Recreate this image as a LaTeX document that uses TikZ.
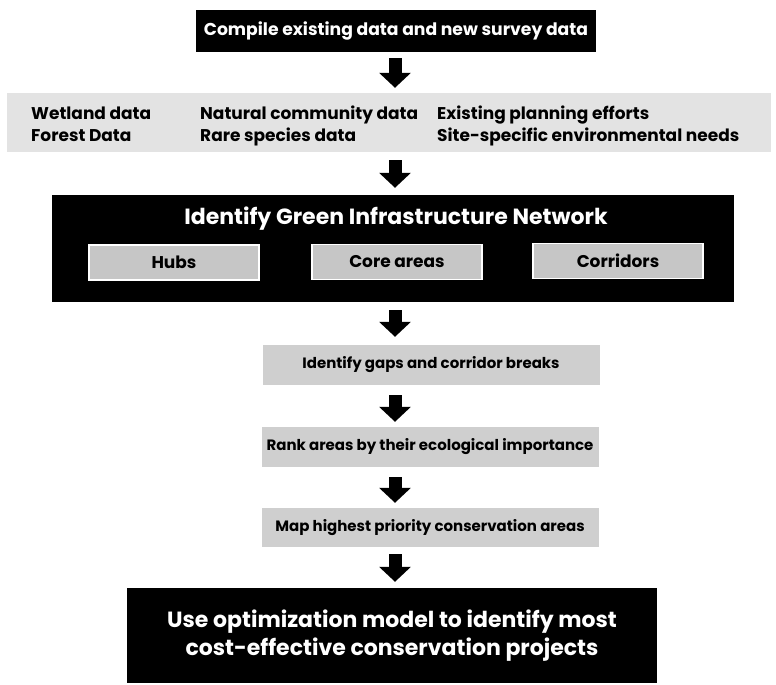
\documentclass[tikz,border=0pt]{standalone}
\usepackage{fontspec}
\setmainfont{Poppins}
\usetikzlibrary{arrows.meta}
\tikzset{
  blackbox/.style={fill=black, text=white, inner sep=0pt, font=\bfseries},
  graybox/.style={fill=gray!38, text=black, inner sep=0pt, font=\bfseries\fontsize{15}{17}\selectfont},
  subbox/.style={fill=gray!45, draw=white, line width=1.2pt, text=black, inner sep=0pt, minimum width=170pt, minimum height=35pt, font=\bfseries\fontsize{17}{19}\selectfont},
  bandtext/.style={anchor=base west, inner sep=0pt, font=\bfseries\fontsize{17}{19}\selectfont},
  flowarrow/.style={line width=13pt, -{Triangle[width=31pt,length=15pt]}, black}
}
\begin{document}
\begin{tikzpicture}[x=1pt,y=-1pt]
\useasboundingbox (0,0) rectangle (776,685);
\coordinate (ax) at (395,0);
% top box
\node[blackbox, minimum width=400pt, minimum height=42pt, font=\bfseries\fontsize{17.2}{19}\selectfont] (compile) at (396,31) {Compile existing data and new survey data};
% band
\node[fill=gray!22, minimum width=764pt, minimum height=59pt, inner sep=0pt] (band) at (389,122.5) {};
\node[bandtext] (t1) at (31,119) {Wetland data};
\node[bandtext] (t2) at (31,141) {Forest Data};
\node[bandtext] (t3) at (200,119) {Natural community data};
\node[bandtext] (t4) at (200,141) {Rare species data};
\node[bandtext] (t5) at (437,119) {Existing planning efforts};
\node[bandtext] (t6) at (437,141) {Site-specific environmental needs};
% network box
\node[blackbox, minimum width=682pt, minimum height=107pt] (net) at (393,248.5) {};
\node[text=white, inner sep=0pt, font=\bfseries\fontsize{22}{24}\selectfont] (nettitle) at (396,219) {Identify Green Infrastructure Network};
\node[subbox] (hubs) at (174,262.5) {Hubs};
\node[subbox] (core) at (397,262) {Core areas};
\node[subbox] (corr) at (618,261) {Corridors};
% middle boxes
\node[graybox, minimum width=337pt, minimum height=40pt] (gaps) at (431,365) {Identify gaps and corridor breaks};
\node[graybox, minimum width=337pt, minimum height=40pt] (rank) at (430,447) {Rank areas by their ecological importance};
\node[graybox, minimum width=337pt, minimum height=39pt] (map) at (430,527.5) {Map highest priority conservation areas};
% bottom box
\node[blackbox, minimum width=530pt, minimum height=95pt, align=center, font=\bfseries\fontsize{22}{28}\selectfont] (opt) at (392,635.5) {Use optimization model to identify most\\cost-effective conservation projects};
% arrows
\draw[flowarrow] ([yshift=-6pt]compile.south -| ax) -- ([yshift=5pt]band.north -| ax);
\draw[flowarrow] ([yshift=-8pt]band.south -| ax) -- ([yshift=7pt]net.north -| ax);
\draw[flowarrow] ([yshift=-8pt]net.south -| ax) -- ([yshift=8pt]gaps.north -| ax);
\draw[flowarrow] ([yshift=-10pt]gaps.south -| ax) -- ([yshift=5pt]rank.north -| ax);
\draw[flowarrow] ([yshift=-10pt]rank.south -| ax) -- ([yshift=5pt]map.north -| ax);
\draw[flowarrow] ([yshift=-7pt]map.south -| ax) -- ([yshift=6pt]opt.north -| ax);
\end{tikzpicture}
\end{document}
